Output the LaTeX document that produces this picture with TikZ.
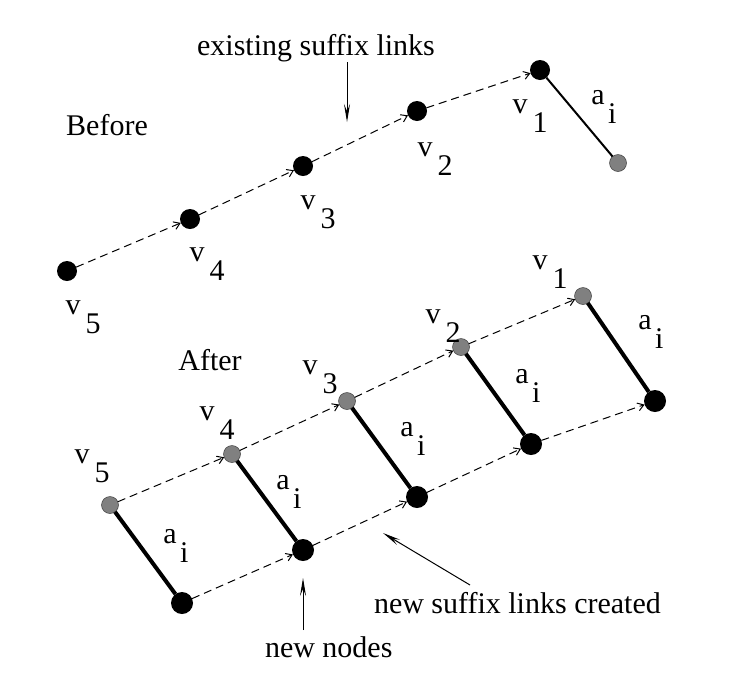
\documentclass[tikz,border=0pt]{standalone}
\usepackage{fontspec}
\setmainfont{Liberation Serif}
\usetikzlibrary{arrows.meta}
\newcommand{\labV}[2]{#1\hspace{0.17em}\raisebox{-0.63em}{#2}}
\newcommand{\labA}[2]{#1\hspace{0.12em}\raisebox{-0.63em}{#2}}
\begin{document}
\begin{tikzpicture}[x=1pt,y=-1pt,
  every node/.style={inner sep=0pt, outer sep=0pt},
  txt/.style={font=\fontsize{30}{33}\selectfont},
  bnode/.style={circle, fill=black, minimum size=20pt},
  bnodeL/.style={circle, fill=black, minimum size=22pt},
  gnode/.style={circle, fill=black!50, draw=black!75, line width=0.5pt, minimum size=17pt},
  link/.style={dash pattern=on 8pt off 5pt, line width=1pt, -{Straight Barb[length=6pt,width=8pt]}},
  edgethin/.style={line width=2pt},
  edgethick/.style={line width=4pt},
  note/.style={line width=1pt, -{Stealth[length=18pt,width=6pt,inset=7pt]}},
  lbl/.style={txt, anchor=base west},
]
\useasboundingbox (0,0) rectangle (730,689);

% ---------- Before ----------
\node[txt] (before) at (107,125) {Before};
\node[bnode] (b5) at (67,271) {};
\node[bnode] (b4) at (190,219) {};
\node[bnode] (b3) at (303,166) {};
\node[bnode] (b2) at (417,111) {};
\node[bnode] (b1) at (540,70) {};
\node[gnode] (bg) at (618,163) {};
\draw[link] (b5) -- (b4);
\draw[link] (b4) -- (b3);
\draw[link] (b3) -- (b2);
\draw[link] (b2) -- (b1);
\draw[edgethin] (b1) -- (bg);

\node[lbl] (lb5) at (65.5,314.7) {\labV{v}{5}};
\node[lbl] (lb4) at (189.5,261.7) {\labV{v}{4}};
\node[lbl] (lb3) at (300.5,209.7) {\labV{v}{3}};
\node[lbl] (lb2) at (417.5,156.7) {\labV{v}{2}};
\node[lbl] (lb1) at (512.5,113.7) {\labV{v}{1}};
\node[lbl] (lba) at (591.3,104.7) {\labA{a}{i}};

\node[txt, anchor=base] (exist) at (316,55) {existing suffix links};
\coordinate (e1) at (347,62);
\coordinate (e2) at (347,122);
\draw[note] (e1) -- (e2);

% ---------- After ----------
\node[txt] (after) at (210,360) {After};
\node[gnode] (t5) at (110,505) {};
\node[gnode] (t4) at (232,454) {};
\node[gnode] (t3) at (347,401) {};
\node[gnode] (t2) at (461,347) {};
\node[gnode] (t1) at (583,296) {};
\node[bnodeL] (d5) at (182,603) {};
\node[bnodeL] (d4) at (303,550) {};
\node[bnodeL] (d3) at (417,497) {};
\node[bnodeL] (d2) at (531,444) {};
\node[bnodeL] (d1) at (655,401) {};

\draw[link] (t5) -- (t4);
\draw[link] (t4) -- (t3);
\draw[link] (t3) -- (t2);
\draw[link] (t2) -- (t1);
\draw[link] (d5) -- (d4);
\draw[link] (d4) -- (d3);
\draw[link] (d3) -- (d2);
\draw[link] (d2) -- (d1);
\draw[edgethick] (t5) -- (d5);
\draw[edgethick] (t4) -- (d4);
\draw[edgethick] (t3) -- (d3);
\draw[edgethick] (t2) -- (d2);
\draw[edgethick] (t1) -- (d1);

\node[lbl] (lt5) at (74.5,463.7) {\labV{v}{5}};
\node[lbl] (lt4) at (199.5,420.7) {\labV{v}{4}};
\node[lbl] (lt3) at (302.5,374.7) {\labV{v}{3}};
\node[lbl] (lt2) at (425.5,323.7) {\labV{v}{2}};
\node[lbl] (lt1) at (532.5,269.7) {\labV{v}{1}};
\node[lbl] (la5) at (163.3,543.7) {\labA{a}{i}};
\node[lbl] (la4) at (276.3,489.7) {\labA{a}{i}};
\node[lbl] (la3) at (400.3,436.7) {\labA{a}{i}};
\node[lbl] (la2) at (515.3,383.7) {\labA{a}{i}};
\node[lbl] (la1) at (638.3,329.7) {\labA{a}{i}};

\node[txt, anchor=base west] (newnodes) at (265,657) {new nodes};
\coordinate (n1) at (303,630);
\coordinate (n2) at (303,578);
\draw[note] (n1) -- (n2);

\node[txt, anchor=base west] (newlinks) at (374,613) {new suffix links created};
\coordinate (s1) at (470,585);
\coordinate (s2) at (383,533);
\draw[note] (s1) -- (s2);
\end{tikzpicture}
\end{document}
